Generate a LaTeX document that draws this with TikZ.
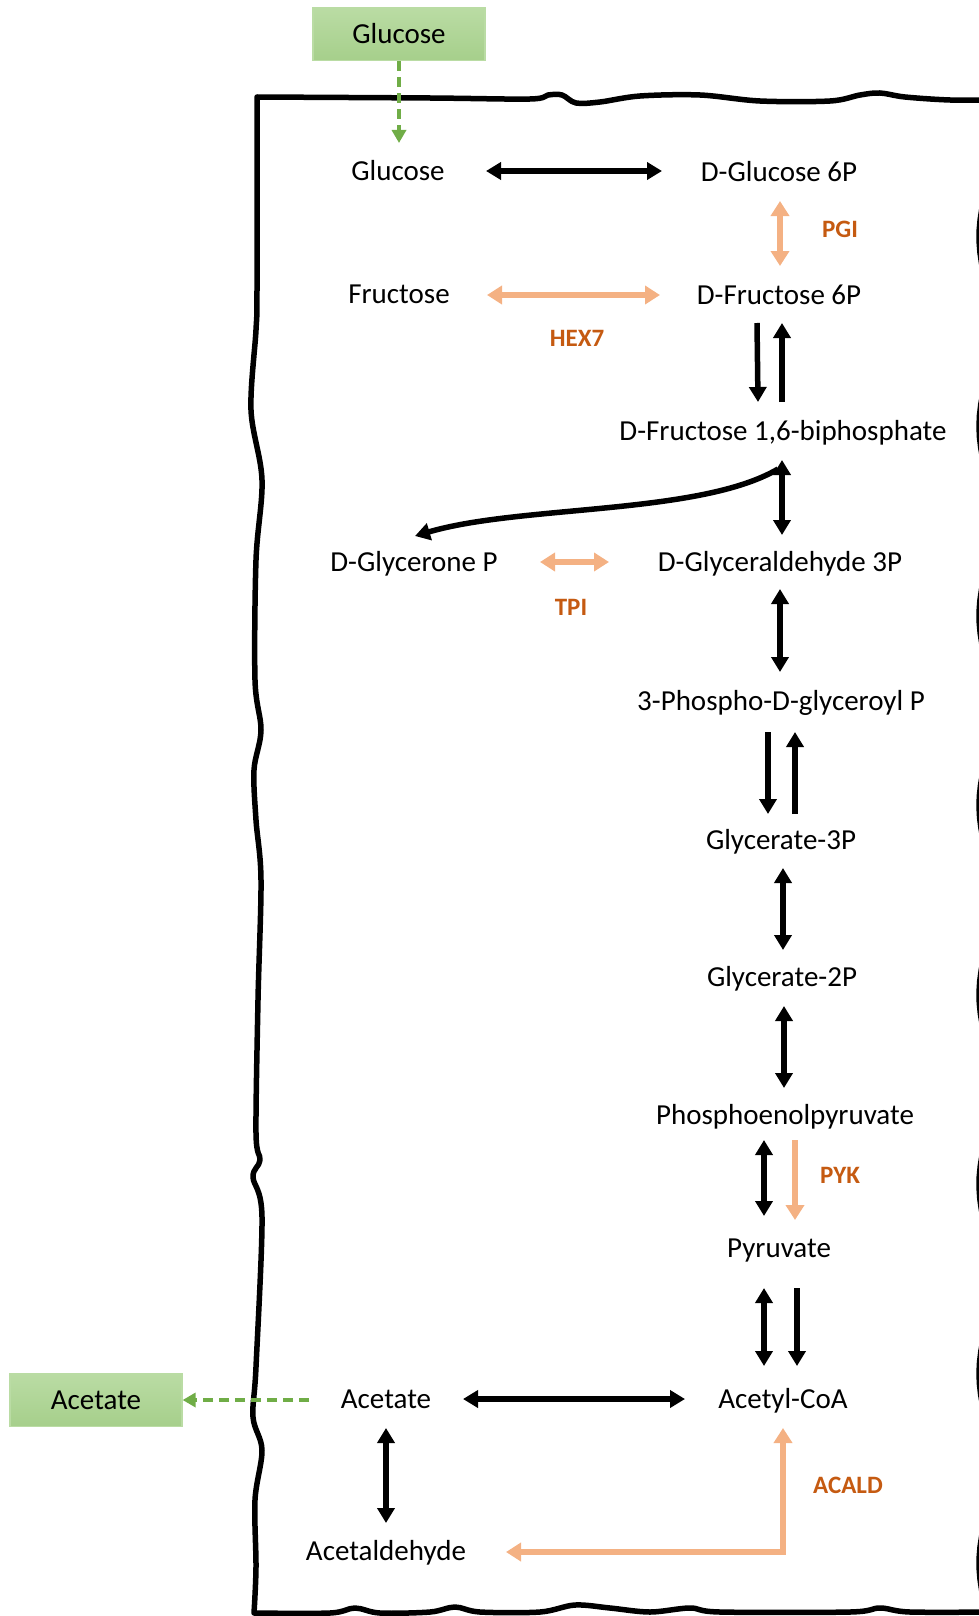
\documentclass[tikz,border=0pt]{standalone}
\usepackage{fontspec}
\setmainfont{Carlito}
\usetikzlibrary{arrows.meta,calc}

\definecolor{enzline}{RGB}{244,177,131}
\definecolor{enztext}{RGB}{197,90,17}
\definecolor{exgreen}{RGB}{112,173,71}
\definecolor{boxgreen}{RGB}{166,207,139}
\definecolor{boxlight}{RGB}{186,220,164}

\begin{document}
\begin{tikzpicture}[x=1pt,y=-1pt,
  met/.style={font=\fontsize{29}{34}\selectfont, inner sep=0pt, text height=19pt, text depth=0pt},
  enz/.style={font=\fontsize{25}{30}\selectfont\bfseries, text=enztext, inner sep=0pt, text height=16pt, text depth=0pt},
  exbox/.style={met, minimum width=172pt, minimum height=53pt, top color=boxlight, bottom color=boxgreen, draw=boxlight, line width=1.2pt},
  cellwall/.style={line width=5.5pt, black, line join=round, line cap=round},
  rxn/.style={line width=5.5pt, -{Triangle[width=17pt,length=15pt]}},
  rxnrev/.style={line width=5.5pt, {Triangle[width=17pt,length=15pt]}-{Triangle[width=17pt,length=15pt]}},
  enzfwd/.style={line width=5.5pt, enzline, -{Triangle[width=18pt,length=15pt]}},
  enzrev/.style={line width=5.5pt, enzline, {Triangle[width=18pt,length=15pt]}-{Triangle[width=18pt,length=15pt]}},
  gdash/.style={line width=3.5pt, exgreen, dash pattern=on 10pt off 6pt, -{Triangle[width=14pt,length=13pt]}}
]
\useasboundingbox (0,0) rectangle (979,1616);

% cell membrane: top edge, left wall, bottom edge
\draw[cellwall]
  plot[smooth, tension=0.55] coordinates {(995,100) (950,100) (905,97) (880,93) (860,95) (830,101) (760,101) (700,95) (640,96) (600,102) (576,103) (562,95) (548,95) (530,99) (430,98) (257,97)}
  -- plot[smooth, tension=0.55] coordinates {(257,97) (257,290) (256,330) (251,410) (262,480) (256,560) (255,680) (261,730) (254,770) (256,820) (261,880) (258,1000) (256,1133) (260,1160) (253,1177) (262,1217) (256,1367) (253,1417) (262,1450) (255,1500) (256,1567) (254,1613)}
  -- plot[smooth, tension=0.55] coordinates {(254,1613) (330,1613) (355,1608) (380,1613) (430,1612) (455,1607) (480,1612) (540,1612) (575,1605) (610,1608) (650,1612) (690,1608) (720,1612) (850,1612) (880,1608) (910,1612) (995,1612)};
% right wall
\draw[cellwall] plot[domain=100:1612, samples=140, variable=\t] ({986-7*sin(1.9*\t)}, \t);

% external metabolites
\node[exbox] (glcOut) at (399,34) {Glucose};
\node[exbox] (acOut) at (96,1400) {Acetate};

% internal metabolites
\node[met] (glc)   at (398,171)  {Glucose};
\node[met] (g6p)   at (779,172)  {D-Glucose 6P};
\node[met] (fru)   at (399,294)  {Fructose};
\node[met] (f6p)   at (779,295)  {D-Fructose 6P};
\node[met] (fbp)   at (783,431)  {D-Fructose 1,6-biphosphate};
\node[met] (dhap)  at (414,562)  {D-Glycerone P};
\node[met] (gap)   at (780,562)  {D-Glyceraldehyde 3P};
\node[met] (bpg)   at (781,701)  {3-Phospho-D-glyceroyl P};
\node[met] (g3p)   at (781,840)  {Glycerate-3P};
\node[met] (g2p)   at (782,977)  {Glycerate-2P};
\node[met] (pep)   at (785,1115) {Phosphoenolpyruvate};
\node[met] (pyr)   at (779,1248) {Pyruvate};
\node[met] (accoa) at (783,1399) {Acetyl-CoA};
\node[met] (ac)    at (386,1399) {Acetate};
\node[met] (acald) at (386,1551) {Acetaldehyde};

% enzyme labels
\node[enz] (pgi)   at (840,229)  {PGI};
\node[enz] (hex7)  at (577,338)  {HEX7};
\node[enz] (tpi)   at (571,607)  {TPI};
\node[enz] (pyk)   at (840,1175) {PYK};
\node[enz] (acaldE) at (848,1485) {ACALD};

% transport
\draw[gdash] (glcOut.south) -- ($(glc)+(1,-28)$);
\draw[gdash] ($(ac)+(-77,1)$) -- (acOut.east);

% upper glycolysis
\draw[rxnrev] ($(glc)+(88,0)$) -- ($(g6p)+(-117,-1)$);
\draw[enzrev] ($(g6p)+(1,29)$) -- ($(f6p)+(1,-29)$);
\draw[enzrev] ($(fru)+(88,1)$) -- ($(f6p)+(-119,0)$);
\draw[rxn] ($(f6p)+(-22,28)$) -- ($(fbp)+(-25,-29)$);
\draw[rxn] ($(fbp)+(-1,-29)$) -- ($(f6p)+(3,28)$);
\draw[rxnrev] ($(fbp)+(-1,29)$) -- ($(gap)+(2,-27)$);
\draw[rxn] ($(fbp)+(-5,38)$) .. controls ($(fbp)+(-83,84)$) and ($(dhap)+(106,-57)$) .. ($(dhap)+(1,-26)$);
\draw[enzrev] ($(dhap)+(126,0)$) -- ($(gap)+(-171,0)$);

% lower glycolysis
\draw[rxnrev] ($(gap)+(0,27)$) -- ($(bpg)+(-1,-29)$);
\draw[rxn] ($(bpg)+(-13,31)$) -- ($(g3p)+(-13,-26)$);
\draw[rxn] ($(g3p)+(14,-26)$) -- ($(bpg)+(14,31)$);
\draw[rxnrev] ($(g3p)+(2,28)$) -- ($(g2p)+(1,-27)$);
\draw[rxnrev] ($(g2p)+(2,29)$) -- ($(pep)+(-1,-27)$);
\draw[rxnrev] ($(pep)+(-21,25)$) -- ($(pyr)+(-15,-32)$);
\draw[enzfwd] ($(pep)+(10,25)$) -- ($(pyr)+(16,-28)$);
\draw[rxnrev] ($(pyr)+(-15,40)$) -- ($(accoa)+(-19,-33)$);
\draw[rxn] ($(pyr)+(18,40)$) -- ($(accoa)+(14,-33)$);

% acetate branch
\draw[rxnrev] ($(ac)+(77,0)$) -- ($(accoa)+(-98,0)$);
\draw[rxnrev] ($(ac)+(0,29)$) -- ($(acald)+(0,-28)$);
\draw[enzrev] ($(acald)+(120,1)$) -| ($(accoa)+(0,29)$);
\end{tikzpicture}
\end{document}
